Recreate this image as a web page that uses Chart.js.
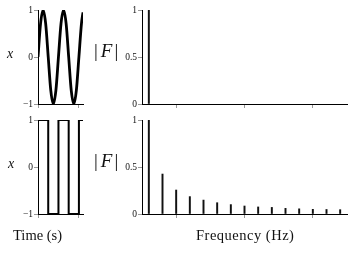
<!DOCTYPE html>
<html>
<head>
<meta charset="utf-8">
<script src="https://cdn.jsdelivr.net/npm/chart.js@4/dist/chart.umd.min.js"></script>
<style>
  html, body { margin: 0; padding: 0; background: #fff; }
  #wrap { position: relative; width: 362px; height: 254px; overflow: hidden; font-family: "Liberation Serif", serif; color: #111; }
  canvas { position: absolute; }
  .lbl { position: absolute; white-space: nowrap; line-height: 1; }
  .xl { font-style: italic; font-size: 14px; }
  .fl { font-size: 19px; }
  .fl i { margin: 0 2px 0 3px; }
  .ax { font-size: 14.5px; }
</style>
</head>
<body>
<div id="wrap">
  <canvas id="tl" style="left:0;top:0" width="88" height="112"></canvas>
  <canvas id="tr" style="left:90px;top:0" width="262" height="112"></canvas>
  <canvas id="bl" style="left:0;top:110px" width="88" height="112"></canvas>
  <canvas id="br" style="left:90px;top:110px" width="262" height="112"></canvas>

  <div class="lbl xl" style="left:7px;top:47px">x</div>
  <div class="lbl xl" style="left:8px;top:157px">x</div>
  <div class="lbl fl" style="left:94px;top:41px">|<i>F</i>|</div>
  <div class="lbl fl" style="left:94px;top:151px">|<i>F</i>|</div>
  <div class="lbl ax" style="left:13px;top:228px">Time (s)</div>
  <div class="lbl ax" style="left:196px;top:228px;letter-spacing:0.5px">Frequency (Hz)</div>
</div>
<script>
// time signals
const sineTime = [0, 0.0625, 0.125, 0.1875, 0.25, 0.3125, 0.375, 0.4375, 0.5, 0.5625, 0.625, 0.6875, 0.75, 0.8125, 0.875, 0.9375, 1, 1.0625, 1.1];
const sineX = [0, 0.71, 1, 0.71, 0, -0.71, -1, -0.71, 0, 0.71, 1, 0.71, 0, -0.71, -1, -0.71, 0, 0.71, 0.95];
const squareTime = [0, 0.25, 0.25, 0.5, 0.5, 0.75, 0.75, 1, 1, 1.1];
const squareX = [1, 1, -1, -1, 1, 1, -1, -1, 1, 1];

// spectra
const sineFreq = [2];
const sineMag = [1];
const squareFreq = [2, 6, 10, 14, 18, 22, 26, 30, 34, 38, 42, 46, 50, 54, 58];
const squareMag = [1, 0.425, 0.255, 0.185, 0.148, 0.12, 0.1, 0.085, 0.075, 0.07, 0.06, 0.055, 0.05, 0.048, 0.046];

Chart.defaults.font.family = "'Liberation Serif', serif";
Chart.defaults.font.size = 9.5;
Chart.defaults.color = "#111";

const toPoints = (xs, ys) => xs.map((x, i) => ({ x: x, y: ys[i] }));
const minus = (v) => (v < 0 ? "\u2212" + Math.abs(v) : String(v));

function scales(xMax, xStep, yMin, yMax, yStep, yWidth) {
  return {
    x: {
      type: "linear",
      min: 0,
      max: xMax,
      offset: false,
      ticks: { display: false, stepSize: xStep, includeBounds: false },
      grid: { drawOnChartArea: false, tickLength: 4, color: "#999" },
      border: { color: "#000", width: 1 },
      afterFit: (s) => { s.height = 6; },
    },
    y: {
      min: yMin,
      max: yMax,
      ticks: { stepSize: yStep, padding: 1, callback: minus },
      grid: { drawOnChartArea: false, tickLength: 4, color: "#999" },
      border: { color: "#000", width: 1 },
      afterFit: (s) => { s.width = yWidth; },
    },
  };
}

const common = {
  responsive: false,
  animation: false,
  events: [],
  plugins: { legend: { display: false }, tooltip: { enabled: false } },
};

function lineChart(id, xs, ys, width, smooth) {
  new Chart(document.getElementById(id), {
    type: "line",
    data: {
      datasets: [{
        data: toPoints(xs, ys),
        borderColor: "#000",
        borderWidth: width,
        pointRadius: 0,
        cubicInterpolationMode: smooth ? "monotone" : "default",
        tension: 0,
      }],
    },
    options: {
      ...common,
      layout: { padding: { top: 10, right: 5, bottom: 2, left: 0 } },
      scales: scales(1.1, 1, -1, 1, 1, 38),
    },
  });
}

function spikeChart(id, xs, ys) {
  new Chart(document.getElementById(id), {
    type: "bar",
    data: {
      datasets: [{
        data: toPoints(xs, ys),
        backgroundColor: "#111",
        barThickness: 1.3,
      }],
    },
    options: {
      ...common,
      layout: { padding: { top: 10, right: 5, bottom: 2, left: 0 } },
      scales: scales(60, 20, 0, 1, 0.5, 52),
    },
  });
}

lineChart("tl", sineTime, sineX, 2.8, true);
lineChart("bl", squareTime, squareX, 2, false);
spikeChart("tr", sineFreq, sineMag);
spikeChart("br", squareFreq, squareMag);
</script>
</body>
</html>
